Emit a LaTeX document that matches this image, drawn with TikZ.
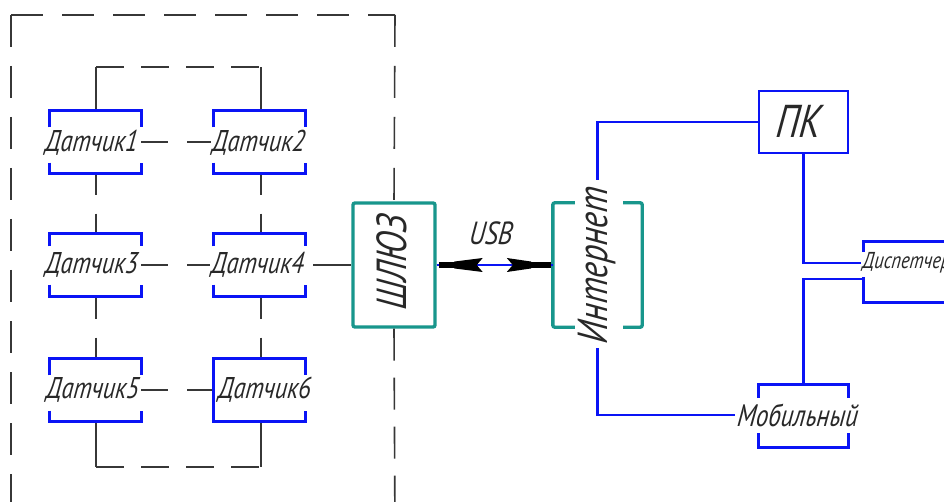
\documentclass[tikz,border=0pt]{standalone}
\usepackage{fontspec}
\usetikzlibrary{calc}
\newfontfamily\gost{PT Sans}[FakeStretch=0.8,FakeSlant=0.1]
\definecolor{bluec}{RGB}{10,20,245}
\definecolor{tealc}{RGB}{24,150,140}
\definecolor{grayc}{RGB}{55,55,55}
\definecolor{textc}{RGB}{40,40,40}
\begin{document}
\begin{tikzpicture}[x=1pt,y=-1pt,
  gline/.style={draw=grayc,line width=1.6pt},
  bline/.style={draw=bluec,line width=2.6pt},
  brk/.style={draw=bluec,line width=2.8pt},
  tline/.style={draw=tealc,line width=3.4pt,rounded corners=2pt},
  box/.style={inner sep=0pt,minimum width=91pt,minimum height=63pt},
  lbl/.style={inner sep=0pt,text=textc,font=\gost\itshape\fontsize{30}{30}\selectfont},
  outerdash/.style={gline,dash pattern=on 32pt off 19pt},
  innerdash/.style={gline,dash pattern=on 28pt off 17pt}]
\clip (0,0) rectangle (944,502);
\fill[white] (0,0) rectangle (944,502);

% outer dashed frame
\coordinate (otl) at (11,15);
\coordinate (otr) at (395,15);
\coordinate (obl) at (11,540);
\coordinate (obr) at (395,540);

% sensor boxes
\node[box] (d1) at (95.5,142) {};
\node[box] (d2) at (259.5,142) {};
\node[box] (d3) at (95.5,265) {};
\node[box] (d4) at (259.5,265) {};
\node[box] (d5) at (95.5,390) {};
\node[box] (d6) at (259.5,390) {};

% gateway
\node[draw=tealc,line width=3.4pt,rounded corners=2pt,minimum width=82pt,minimum height=124pt,inner sep=0pt] (shl) at (394,265) {};
\node[lbl,rotate=90,font=\gost\itshape\fontsize{42}{42}\selectfont] (shlt) at (392,263) {ШЛЮЗ};

\draw[outerdash] (otl) -- (otr);
\draw[outerdash] (otl) -- (obl);
\draw[outerdash] (otr) -- (shl.north);
\draw[outerdash,dash pattern=on 32pt off 17pt] (shl.south) -- (obr);

% inner structure
\coordinate (itl) at (96,67);
\coordinate (itr) at (261,67);
\coordinate (ibl) at (96,467);
\coordinate (ibr) at (261,467);
\draw[gline] (d1.north -| itl) -- (itl);
\draw[gline] (d2.north -| itr) -- (itr);
\draw[innerdash] (itl) -- (itr);
\draw[innerdash] (ibl) -- (ibr);
\draw[gline] (d5.south -| ibl) -- (ibl);
\draw[gline] (d6.south -| ibr) -- (ibr);
\draw[gline,dash pattern=on 21pt off 19pt] (d1.south -| itl) -- (d3.north -| itl);
\draw[gline,dash pattern=on 21pt off 19pt] (d2.south -| itr) -- (d4.north -| itr);
\draw[gline,dash pattern=on 22pt off 19pt] (d3.south -| itl) -- (d5.north -| itl);
\draw[gline,dash pattern=on 22pt off 19pt] (d4.south -| itr) -- (d6.north -| itr);
\draw[gline,dash pattern=on 27pt off 19pt] (d1.east) -- (d2.west);
\draw[gline,dash pattern=on 27pt off 19pt] (d3.east) -- (d4.west);
\draw[gline,dash pattern=on 27pt off 19pt] (d5.east) -- (d6.west);
\draw[gline] ([xshift=8pt]d4.east) -- (shl.west);

% brackets of sensors
\foreach \n/\tl/\bl in {d1/17/11,d2/17/11,d3/13/12,d4/13/12,d5/17/11,d6/17/11}{
  \draw[brk] ([yshift=-\tl pt]\n.north west) -- (\n.north west) -- (\n.north east) -- ([yshift=-\tl pt]\n.north east);
  \draw[brk] ([yshift=\bl pt]\n.south west) -- (\n.south west) -- (\n.south east) -- ([yshift=\bl pt]\n.south east);
}
\draw[brk] (d6.north west) -- (d6.south west);

% sensor labels
\node[lbl,fill=white,inner xsep=1pt] (t1) at (91,143) {Датчик1};
\node[lbl,fill=white,inner xsep=1pt] (t2) at (258,143) {Датчик2};
\node[lbl,fill=white,inner xsep=1pt] (t3) at (91,265) {Датчик3};
\node[lbl,fill=white,inner xsep=1pt] (t4) at (257,265) {Датчик4};
\node[lbl,fill=white,inner xsep=1pt] (t5) at (92,390) {Датчик5};
\node[lbl,fill=white,inner xsep=1pt] (t6) at (264,390) {Датчик6};

% internet
\node[inner sep=0pt,minimum width=89pt,minimum height=124pt] (int) at (597.5,265) {};
\draw[tline] ([xshift=22pt]int.north west) -- (int.north west) -- (int.south west) -- ([xshift=22pt]int.south west);
\draw[tline] ([xshift=-19pt]int.north east) -- (int.north east) -- (int.south east) -- ([xshift=-19pt]int.south east);
\node[lbl,rotate=90,font=\gost\itshape\fontsize{42}{42}\selectfont] (intt) at (597,266) {Интернет};

% USB link
\draw[draw=bluec,line width=1.2pt] (shl.east) -- (int.west);
\fill[black] ($(shl.east)+(2,-3)$) rectangle ($(shl.east)+(22,3)$);
\fill[black] ($(shl.east)+(14,0)$) -- ($(shl.east)+(18,-3.5)$) -- ($(shl.east)+(46,-7)$) -- ($(shl.east)+(40,0)$) -- ($(shl.east)+(46,7)$) -- ($(shl.east)+(18,3.5)$) -- cycle;
\fill[black] ($(int.west)+(-2,-3)$) rectangle ($(int.west)+(-26,3)$);
\fill[black] ($(int.west)+(-18,0)$) -- ($(int.west)+(-22,-3.5)$) -- ($(int.west)+(-46,-7)$) -- ($(int.west)+(-40,0)$) -- ($(int.west)+(-46,7)$) -- ($(int.west)+(-22,3.5)$) -- cycle;
\node[lbl,font=\gost\itshape\fontsize{32}{32}\selectfont] (usb) at (490,233) {USB};

% PC
\node[draw=bluec,line width=2.6pt,inner sep=0pt,minimum width=89pt,minimum height=62pt] (pk) at (803.5,122) {};
\node[lbl,font=\gost\itshape\fontsize{46}{46}\selectfont] (pkt) at (798,121) {ПК};

% mobile
\node[inner sep=0pt,minimum width=89pt,minimum height=62pt] (mob) at (803.5,416) {};
\draw[brk] ([yshift=-13pt]mob.north west) -- (mob.north west) -- (mob.north east) -- ([yshift=-13pt]mob.north east);
\draw[brk] ([yshift=14pt]mob.south west) -- (mob.south west) -- (mob.south east) -- ([yshift=14pt]mob.south east);
\node[lbl,fill=white,inner xsep=1pt,font=\gost\itshape\fontsize{31}{31}\selectfont] (mobt) at (797,415) {Мобильный};

% dispatcher
\node[inner sep=0pt,minimum width=140pt,minimum height=60pt] (disp) at (934,272) {};
\draw[brk] ([yshift=-10pt]disp.north west) -- (disp.north west) -- (disp.north east);
\draw[brk] ([yshift=25pt]disp.south west) -- (disp.south west) -- (disp.south east);
\node[lbl,anchor=west,fill=white,inner xsep=1pt,font=\gost\itshape\fontsize{23}{23}\selectfont] (dispt) at (861,263) {Диспетчер};

% blue connectors
\draw[bline] ([yshift=23pt]int.north) |- (pk.west);
\draw[bline] ([yshift=-21pt]int.south) |- (mobt.west);
\draw[bline] (pk.south) |- (dispt.west);
\coordinate (dleg) at ([yshift=23pt]disp.south west);
\draw[bline] (mob.north) |- (dleg);
\end{tikzpicture}
\end{document}
